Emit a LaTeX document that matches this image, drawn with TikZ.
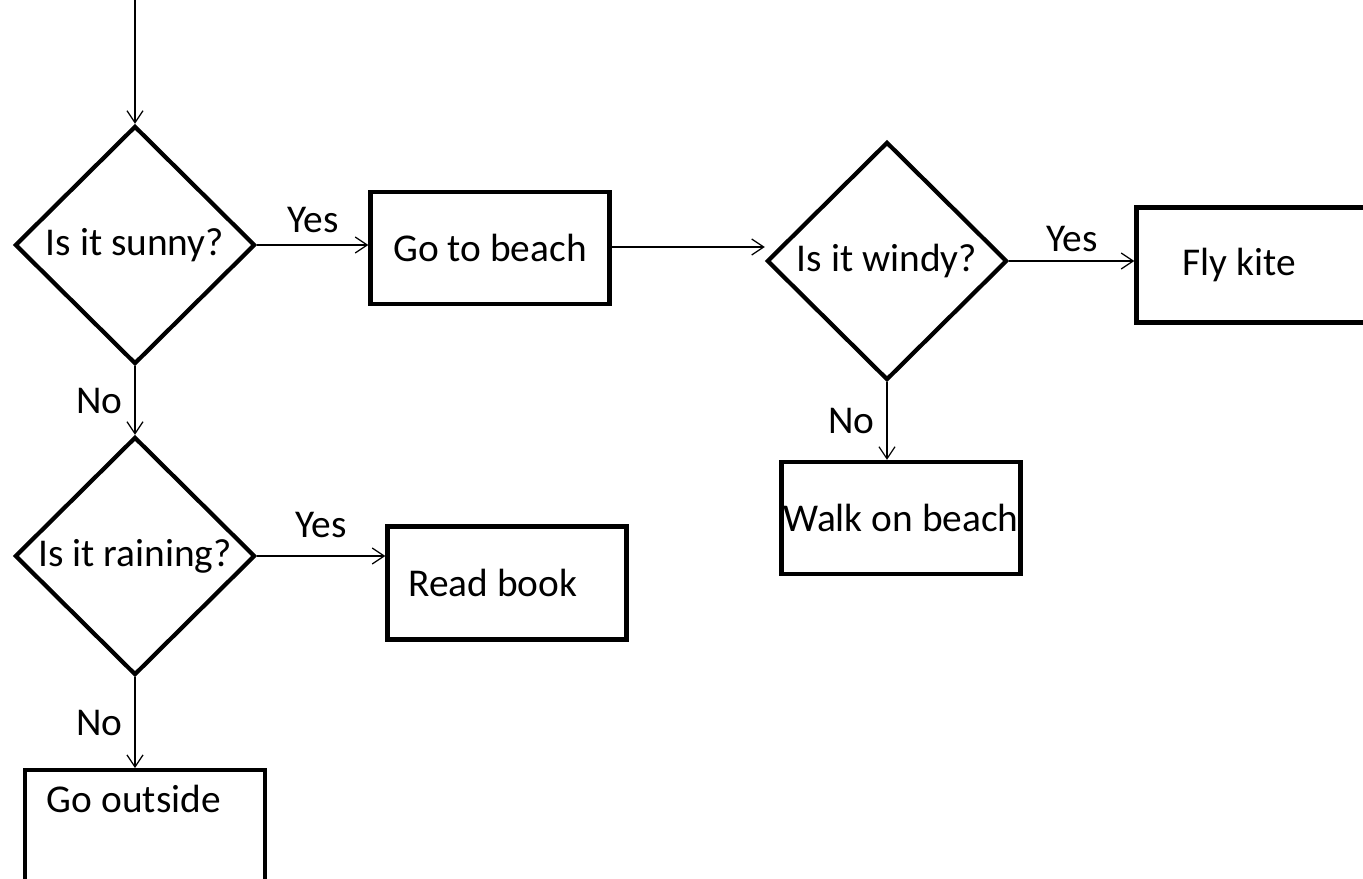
\documentclass[tikz,border=0pt]{standalone}
\usepackage{fontspec}
\setmainfont{Carlito}
\usetikzlibrary{shapes.geometric,arrows.meta,positioning}

\begin{document}
\begin{tikzpicture}[x=0.01cm,y=-0.01cm,font=\fontsize{11.2}{13}\selectfont,
    decision/.style={draw,diamond,aspect=1,line width=1.2pt,inner sep=0pt,minimum width=2.4cm,minimum height=2.38cm},
    action/.style={draw,rectangle,line width=1.2pt,minimum width=2.39cm,minimum height=1.12cm},
    flow/.style={-{Straight Barb[length=1.2mm,width=1.6mm]},line width=0.35pt}]
    \useasboundingbox (0,0) rectangle (1363,879);
    \coordinate (start) at (135,0);
    \node[decision] (sunny) at (135,245) {Is it sunny?};
    \node[decision] (raining) at (135,556) {Is it raining?};
    \node[decision] (windy) at (887,261) {Is it windy?};
    \node[action] (beach) at (490,248) {Go to beach};
    \node[action,minimum height=1.15cm,inner xsep=0.46cm] (kite) at (1256,265) {\makebox[1.47cm][l]{Fly kite}};
    \node[action,inner xsep=0pt] (walk) at (901,518) {Walk on beach};
    \node[action,inner xsep=0.21cm,minimum height=1.13cm] (book) at (507,583) {\makebox[1.97cm][l]{Read book}};
    \node[action,anchor=north,inner xsep=0.22cm,minimum height=1.13cm,text depth=0.56cm] (outside) at (145,768) {\makebox[1.96cm][l]{Go outside}};
    \draw[flow] (start) -- (sunny.north);
    \draw[flow] (sunny.east) -- node[above]{Yes} (sunny.east -| beach.west);
    \draw[flow] (sunny.south) -- node[left]{No} (raining.north);
    \draw[flow] (raining.east) -- node[above,yshift=0.06cm]{Yes} (raining.east -| book.west);
    \draw[flow] (raining.south) -- node[left]{No} (outside.north -| raining.south);
    \draw[flow] (beach.east |- 0,247) -- (windy.west |- 0,247);
    \draw[flow] (windy.east) -- node[above,yshift=-0.03cm]{Yes} (windy.east -| kite.west);
    \draw[flow] (windy.south) -- node[left]{No} (walk.north -| windy.south);
\end{tikzpicture}
\end{document}
